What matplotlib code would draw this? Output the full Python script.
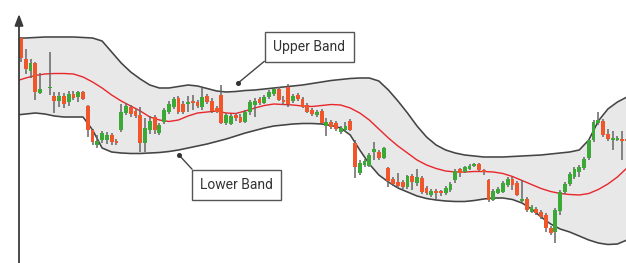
import numpy as np
import matplotlib
matplotlib.use("Agg")
import matplotlib.pyplot as plt

plt.rcParams['font.family'] = ['Roboto', 'DejaVu Sans']

# ---- Data (chart level units; the level scale grows downward) ----
nan = np.nan
open_ = [38, 59, 71, 63, 93, nan, 88, 96, 101, 96, 102, 94, 97, 92, 106, 130, 145, 140, 140, 135,
         141, 130, 113, 107, 111, 115, 143, 130, 117, 133, 122, 112, 107, 98, 104, 104, 101, 102, 107, 96,
         101, 108, 95, 123, 124, 115, 117, 122, 112, 105, 99, 103, 97, 94, 89, 100, 87, 101, 95, 99,
         105, 110, 115, 111, 126, 122, 123, 132, 130, 121, 143, 173, 165, 166, 152, 152, 158, 168, 179, 182,
         182, 187, 176, 183, 178, 188, 195, 191, 191, 193, 190, 180, 169, 172, 169, 166, 164, 170, 180, 200,
         193, 192, 185, 179, 183, 201, 199, 212, 209, 212, 215, 228, 232, 211, 192, 184, 177, 172, 168, 158,
         140, 123, 121, 134, 140, 140, 139, 139]
close_ = [58, 69, 63, 92, 89, nan, 87, 101, 96, 104, 94, 98, 92, 99, 130, 142, 141, 133, 135, 142,
          143, 112, 106, 114, 116, 143, 128, 121, 130, 125, 110, 104, 99, 112, 112, 102, 103, 106, 97, 102,
          111, 112, 123, 115, 116, 118, 122, 112, 102, 101, 103, 97, 92, 89, 100, 102, 104, 96, 99, 107,
          112, 114, 112, 123, 122, 127, 129, 128, 126, 130, 167, 163, 161, 155, 149, 158, 148, 181, 184, 186,
          187, 176, 182, 177, 192, 193, 191, 193, 193, 188, 184, 171, 173, 167, 166, 164, 170, 172, 200, 191,
          189, 183, 179, 185, 195, 199, 210, 207, 213, 217, 228, 233, 210, 192, 184, 174, 169, 167, 159, 140,
          122, 120, 135, 139, 138, 138, 141, 141]
high_ = [37, 49, 59, 62, 73, nan, 52, 92, 92, 93, 91, 91, 91, 91, 105, 129, 135, 131, 132, 133,
         139, 104, 103, 105, 109, 107, 118, 116, 115, 123, 108, 101, 97, 96, 101, 96, 95, 100, 88, 94,
         98, 106, 85, 113, 114, 113, 114, 110, 100, 98, 97, 95, 90, 87, 87, 96, 84, 94, 93, 97,
         103, 108, 110, 109, 118, 120, 121, 126, 122, 119, 140, 160, 159, 153, 142, 150, 147, 167, 177, 173,
         180, 175, 174, 169, 176, 186, 189, 189, 190, 186, 182, 169, 168, 166, 164, 163, 163, 169, 179, 189,
         187, 181, 177, 177, 181, 180, 197, 205, 207, 210, 213, 226, 208, 190, 182, 172, 167, 165, 157, 139,
         120, 112, 119, 129, 131, 136, 131, 138]
low_ = [62, 74, 78, 100, 94, nan, 95, 113, 107, 108, 106, 100, 102, 100, 137, 145, 148, 143, 144, 145,
        145, 132, 115, 117, 118, 152, 152, 134, 134, 135, 124, 114, 109, 114, 114, 112, 110, 108, 110, 104,
        113, 113, 124, 125, 125, 121, 123, 123, 115, 117, 105, 104, 99, 96, 101, 105, 107, 103, 101, 108,
        113, 116, 117, 124, 136, 129, 131, 134, 132, 131, 178, 175, 167, 167, 160, 160, 159, 187, 186, 188,
        189, 189, 190, 186, 194, 195, 197, 199, 196, 195, 192, 183, 177, 173, 170, 167, 171, 175, 202, 201,
        194, 193, 187, 190, 196, 202, 212, 213, 215, 219, 232, 235, 243, 215, 194, 186, 179, 177, 170, 160,
        142, 125, 137, 141, 150, 141, 160, 142]

# Bollinger bands, sampled every second session
upper_band = [38, 38, 37.5, 37, 37, 37, 37, 37.5, 38, 41, 52, 63, 72, 79, 85, 88, 88, 86.5, 85, 86,
              88.5, 91, 92, 91.5, 90.5, 90, 89, 88, 87, 86, 85, 83.5, 82, 80.5, 79.5, 78.5, 78, 78, 81, 90,
              101, 113, 126, 137, 145, 150, 153, 155, 156, 157, 157, 157, 156.5, 156, 155.5, 155, 154, 153, 152, 150,
              140, 121, 109, 102, 97]
middle_band = [81, 78, 75.5, 74, 73.5, 73.5, 74, 77, 82, 88, 95, 101, 106, 111, 117, 120, 121.5, 120, 116, 113,
               112, 111, 113, 113.5, 111, 108, 105.5, 104, 104.5, 105, 106, 106.5, 105.5, 104.5, 105, 108, 113, 120, 129, 138,
               146, 153, 160, 165, 168.5, 171, 172, 172, 171.5, 171.5, 172, 173.5, 176.5, 180.5, 184.5, 188.5, 191.5, 193.5, 194.5, 195,
               193.5, 189.5, 184, 177, 168]
lower_band = [115, 114, 113, 114, 116, 117, 117, 117, 130, 148, 152, 153, 153.5, 153.5, 153, 152.5, 151.5, 150, 148, 146,
              144, 141.5, 139, 136, 133, 130.5, 128, 126, 125, 124, 123.5, 123.5, 124, 125.5, 128, 135, 150, 164, 175, 182,
              188, 192, 196, 198.5, 200, 201, 201.5, 201.5, 200.5, 199, 198, 198, 199.5, 203, 209, 217, 224, 229, 232, 236,
              240, 243, 244.5, 244, 240]

labels = ["Upper Band", "Lower Band"]

# ---- Figure ----
W, H, DPI = 626, 263, 100
fig = plt.figure(figsize=(W / DPI, H / DPI), dpi=DPI)
ax = fig.add_axes([19 / W, 0, 1 - 19 / W, 1])
ax.set_xlim(-0.42, 126.8)
ax.set_ylim(263, 0)
ax.axis('off')

days = np.arange(len(open_))
band_days = np.arange(-1, 2 * len(upper_band) - 1, 2)

ax.fill_between(band_days, upper_band, lower_band, color='#e8e8e8', lw=0, zorder=1)
ax.plot(band_days, upper_band, color='#444444', lw=1.15, zorder=2, solid_capstyle='round')
ax.plot(band_days, lower_band, color='#444444', lw=1.15, zorder=2, solid_capstyle='round')
ax.plot(band_days, middle_band, color='#e8262b', lw=1.0, zorder=3)

o = np.array(open_, float)
c = np.array(close_, float)
hi = np.array(high_, float)
lo = np.array(low_, float)
bull = c < o
ax.vlines(days, hi, lo, color='#666666', lw=1.1, zorder=4)
h = c - o
h = np.where(np.abs(h) < 1.4, np.where(h < 0, -1.4, 1.4), h)
cols = np.where(bull, '#3aa935', '#f0562a')
ax.bar(days, h, bottom=o, width=0.8, color=cols, lw=0, zorder=5)

# vertical axis arrow
ax.annotate('', xy=(0, 1 - 14 / H), xytext=(0, 0), xycoords='axes fraction', textcoords='axes fraction',
            arrowprops=dict(arrowstyle='-|>,head_length=0.45,head_width=0.17', color='#3a3a3a', lw=1.3,
                            mutation_scale=15, shrinkA=0, shrinkB=0), annotation_clip=False, zorder=10)

# callouts
box = dict(boxstyle='square,pad=0.6', fc='white', ec='#555555', lw=1.0)
callouts = [
    (labels[0], (60.4, 47), (45.5, 83), (0, 0)),
    (labels[1], (45.2, 185), (33.1, 155), (0, 1)),
]
for text, txy, pxy, rel in callouts:
    ax.annotate(text, xy=pxy, xytext=txy, ha='center', va='center', fontsize=10, color='#333333',
                bbox=box, zorder=12,
                arrowprops=dict(arrowstyle='-', color='#444444', lw=1.0, relpos=rel, shrinkA=0, shrinkB=0))
    ax.plot([pxy[0]], [pxy[1]], 'o', ms=2.6, color='#333333', zorder=12)

fig.savefig('out.png', dpi=DPI)
